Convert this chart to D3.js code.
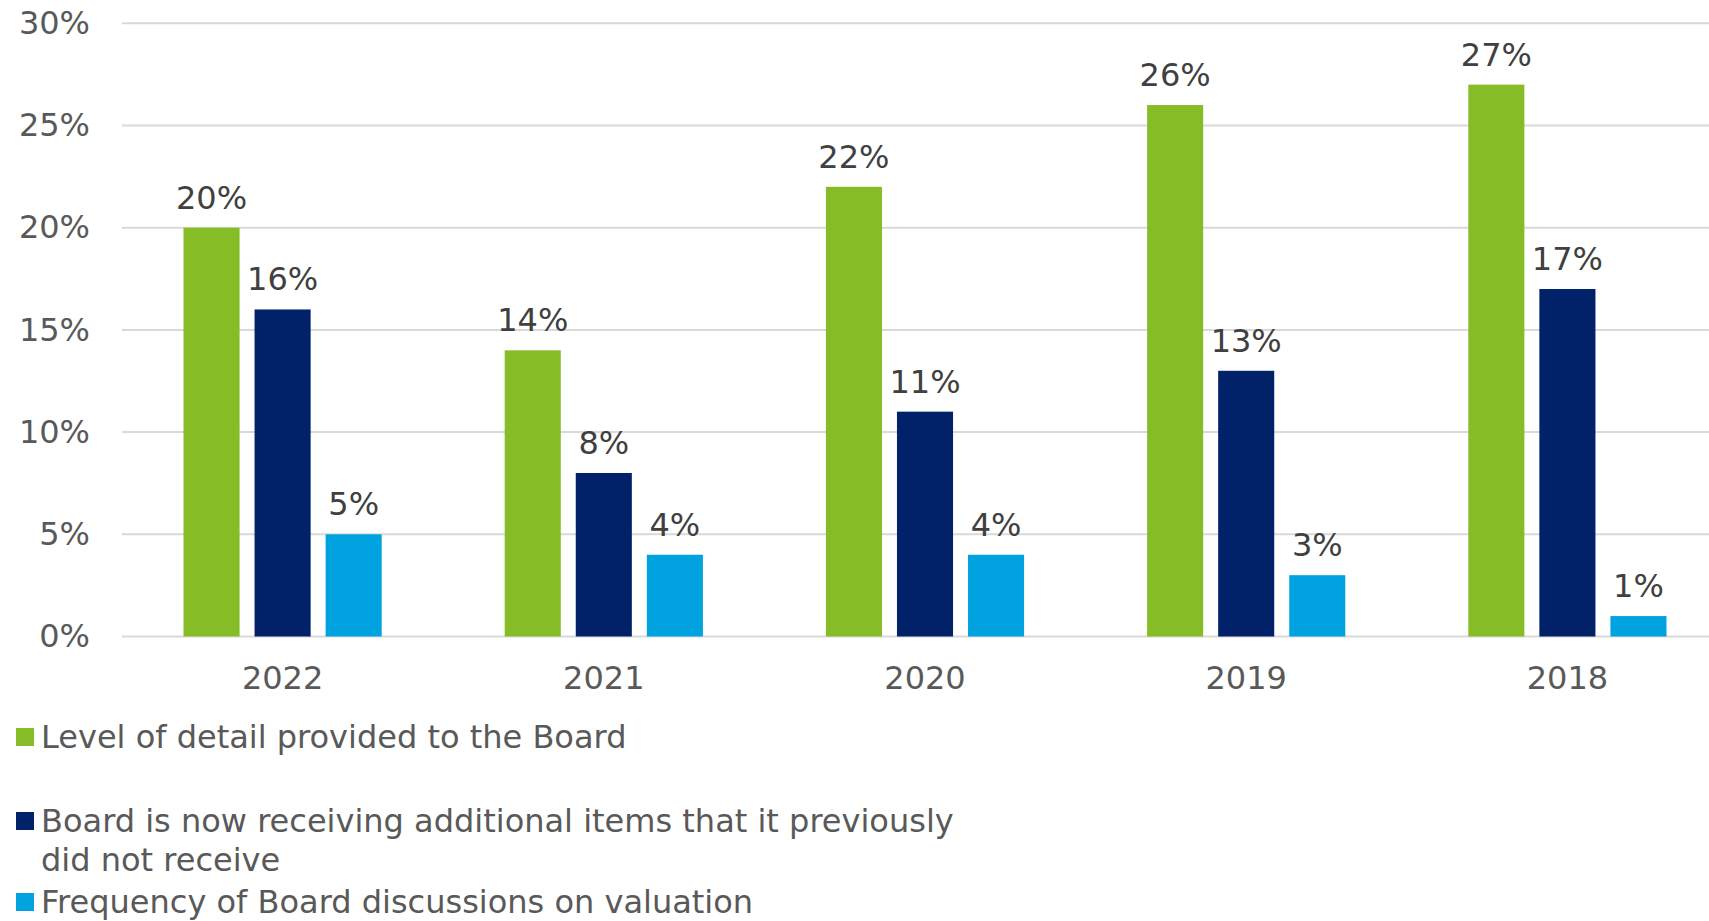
<!DOCTYPE html>
<html>
<head>
<meta charset="utf-8">
<script src="https://cdn.jsdelivr.net/npm/d3@7"></script>
<style>
  html, body { margin: 0; padding: 0; background: #fff; }
  svg { display: block; font-family: "DejaVu Sans", Verdana, sans-serif; }
</style>
</head>
<body>
<svg id="chart" width="1709" height="921"></svg>
<script>
// Survey years, left to right
const years = ["2022", "2021", "2020", "2019", "2018"];

// Series names (legend order)
const seriesNames = [
  "Level of detail provided to the Board",
  "Board is now receiving additional items that it previously did not receive",
  "Frequency of Board discussions on valuation"
];

// Share of respondents (%) per year, one array per series
const levelOfDetail   = [20, 14, 22, 26, 27];
const additionalItems = [16, 8, 11, 13, 17];
const discussionFreq  = [5, 4, 4, 3, 1];

// Y axis ticks (%)
const yTicks = [0, 5, 10, 15, 20, 25, 30];

const seriesColors = ["#86BC25", "#012169", "#00A3E0"];
const seriesValues = [levelOfDetail, additionalItems, discussionFreq];

const svg = d3.select("#chart");
const W = 1709;

const plotLeft = 122, plotRight = 1728;
const y = d3.scaleLinear().domain([0, 30]).range([636.5, 23.3]);

const x0 = d3.scaleBand().domain(years).range([plotLeft, plotRight]).paddingInner(0).paddingOuter(0);
const x1 = d3.scaleBand().domain(d3.range(seriesNames.length))
  .range([61.5, x0.bandwidth() - 61.5]).paddingInner(0.211).paddingOuter(0);

// Gridlines
svg.append("g").selectAll("line").data(yTicks).join("line")
  .attr("x1", plotLeft).attr("x2", W)
  .attr("y1", d => y(d)).attr("y2", d => y(d))
  .attr("stroke", "#d9d9d9").attr("stroke-width", 2);

// Y axis labels
const yAxis = d3.axisLeft(y).tickValues(yTicks).tickFormat(d => d + "%").tickSize(0).tickPadding(0);
const gy = svg.append("g").attr("transform", "translate(90,0)").call(yAxis);
gy.select(".domain").remove();
gy.selectAll("text").attr("font-size", 32).attr("fill", "#595959")
  .attr("font-family", "DejaVu Sans, Verdana, sans-serif");

// X axis labels
const xAxis = d3.axisBottom(x0).tickSize(0).tickPadding(0);
const gx = svg.append("g").attr("transform", "translate(0,666)").call(xAxis);
gx.select(".domain").remove();
gx.selectAll("text").attr("font-size", 32).attr("fill", "#595959")
  .attr("font-family", "DejaVu Sans, Verdana, sans-serif").attr("dy", "0.71em");

// Bars + value labels
const rows = [];
years.forEach((yr, i) => {
  seriesValues.forEach((vals, s) => rows.push({ year: yr, s, v: vals[i] }));
});

const groups = svg.append("g");
groups.selectAll("rect").data(rows).join("rect")
  .attr("x", d => x0(d.year) + x1(d.s))
  .attr("width", x1.bandwidth())
  .attr("y", d => y(d.v))
  .attr("height", d => y(0) - y(d.v))
  .attr("fill", d => seriesColors[d.s]);

groups.selectAll("text").data(rows).join("text")
  .attr("x", d => x0(d.year) + x1(d.s) + x1.bandwidth() / 2)
  .attr("y", d => y(d.v) - 19)
  .attr("text-anchor", "middle")
  .attr("font-size", 32)
  .attr("fill", "#404040")
  .text(d => d.v + "%");

// Legend
const legendTop = [728, 812, 893];
const legend = svg.append("g");
seriesNames.forEach((name, i) => {
  legend.append("rect")
    .attr("x", 16).attr("y", legendTop[i]).attr("width", 18).attr("height", 18)
    .attr("fill", seriesColors[i]);
  const t = legend.append("text")
    .attr("x", 41).attr("y", legendTop[i] + 20)
    .attr("font-size", 32).attr("fill", "#595959");
  // wrap long names
  const words = name.split(" ");
  let line = [], tspan = t.append("tspan").attr("x", 41).attr("dy", 0);
  words.forEach(w => {
    line.push(w);
    tspan.text(line.join(" "));
    if (tspan.node().getComputedTextLength() > 930 && line.length > 1) {
      line.pop();
      tspan.text(line.join(" "));
      line = [w];
      tspan = t.append("tspan").attr("x", 41).attr("dy", 39).text(w);
    }
  });
});
</script>
</body>
</html>
